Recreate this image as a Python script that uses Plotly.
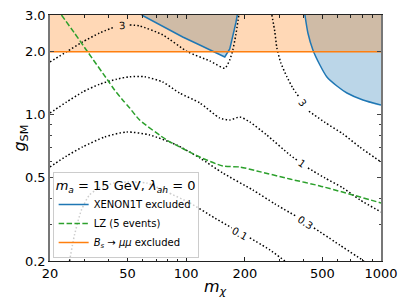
import numpy as np
import plotly.graph_objects as go

# ---------------- data ----------------
# contour g_SM = const lines (dotted), None = gap for inline label
c3_left_m = [20, 24.3, 29.4, 35.9, 42.9, None, 51.3, 57.7, 75.8, 101.8, 132.1, 157.8, 167.4, 173.5, 179.8, 186.3]
c3_left_g = [1.79, 2.00, 2.23, 2.46, 2.63, None, 2.69, 2.66, 2.41, 2.00, 1.81, 1.67, 1.83, 2.04, 2.41, 3.0]

c3_right_m = [275.3, 285.2, 292.0, 306.2, 328.8, 352.9, 378.9, None, 426.5, 515.4, 637.8, 779.8, 1000]
c3_right_g = [3.0, 2.49, 2.09, 1.77, 1.52, 1.34, 1.22, None, 1.04, 0.92, 0.81, 0.70, 0.595]

c1_m = [20, 24.3, 29.4, 35.9, 43.9, 51.3, 61.2, 75.8, 92.6, 117.4, 148.7, 167.4, 188.5, 212.1, 259.4,
        340.6, 370, None, 421.5, 515.4, 637.8, 779.8, 1000]
c1_g = [1.02, 1.15, 1.285, 1.40, 1.48, 1.52, 1.52, 1.435, 1.27, 1.14, 0.965, 0.944, 0.976, 0.924, 0.80,
        0.643, 0.608, None, 0.557, 0.499, 0.447, 0.392, 0.343]

c03_m = [20, 24.3, 29.4, 38.1, 49.5, 64.9, 89.4, 117.4, 154.1, 219.8, 285.2, 365.7, None, 452.5, 615.5, 817.6]
c03_g = [0.563, 0.635, 0.702, 0.783, 0.828, 0.801, 0.717, 0.622, 0.527, 0.437, 0.375, 0.328, None, 0.288, 0.238, 0.2]

c01_m = [25.2, 26.7, 29.0, 31.9, 35.9, 42.9, 49.5, 62.7, 79.4, 104.3, 140.2, 171.4, None, 212.1, 268.8, 321.1]
c01_g = [0.2, 0.266, 0.351, 0.414, 0.447, 0.472, 0.477, 0.472, 0.428, 0.379, 0.321, 0.288, None, 0.258, 0.226, 0.2]

# LZ (5 events)
lz_m = [22.9, 26.7, 31.2, 39.5, 42.9, 47.2, 51.3, 57.7, 79.4, 92.6, 117.4, 154.1, 188.5, 230.5, 340.6, 485.8, 1000]
lz_g = [3.0, 2.46, 2.00, 1.467, 1.314, 1.177, 1.078, 0.944, 0.758, 0.702, 0.628, 0.569, 0.563, 0.539, 0.493, 0.457, 0.379]

# XENON1T exclusion boundaries
x1t_left_m = [59.1, 75.8, 96.0, 117.4, 136.9, 157.8, 167.4, 173.5, 179.8, 183.0]
x1t_left_g = [3.0, 2.658, 2.355, 2.156, 2.018, 1.889, 2.063, 2.355, 2.747, 3.0]
x1t_right_m = [406.8, 421.5, 447.2, 485.8, 527.7, 594.1, 668.7, 808.0, 1000]
x1t_right_g = [3.0, 2.461, 2.041, 1.730, 1.516, 1.373, 1.271, 1.177, 1.114]

# B_s -> mu mu bound
bs_g = 2.0

# contour labels: text, m, g, angle
clabels = [("3", 46.6, 2.66, -4), ("3", 393, 1.139, 52), ("1", 393, 0.588, 36),
           ("0.3", 407, 0.304, 33), ("0.1", 188, 0.272, 29)]

x_ticks = [20, 50, 100, 200, 500, 1000]
x_minor = [30, 40, 60, 70, 80, 90, 300, 400, 600, 700, 800, 900]
y_ticks = [0.2, 0.5, 1.0, 2.0, 3.0]
y_ticklabels = ["0.2", "0.5", "1.0", "2.0", "3.0"]
y_minor = [0.3, 0.4, 0.6, 0.7, 0.8, 0.9]

x_range = (20, 1000)
y_range = (0.2, 3.0)

BLUE = "#1f77b4"
ORANGE = "#ff7f0e"
GREEN = "#2ca02c"
FONT = "DejaVu Sans"

fig = go.Figure()

# XENON1T fills
fig.add_trace(go.Scatter(x=x1t_left_m, y=x1t_left_g, mode="lines", fill="toself",
                         fillcolor="rgba(31,119,180,0.3)", line=dict(width=0),
                         showlegend=False, hoverinfo="skip"))
fig.add_trace(go.Scatter(x=x1t_right_m + [x_range[1]], y=x1t_right_g + [y_range[1]], mode="lines",
                         fill="toself", fillcolor="rgba(31,119,180,0.3)",
                         line=dict(width=0, shape="spline", smoothing=0.6),
                         showlegend=False, hoverinfo="skip"))
# B_s fill
fig.add_trace(go.Scatter(x=[x_range[0], x_range[1], x_range[1], x_range[0]],
                         y=[bs_g, bs_g, y_range[1], y_range[1]], mode="lines", fill="toself",
                         fillcolor="rgba(255,127,14,0.3)", line=dict(width=0),
                         showlegend=False, hoverinfo="skip"))

# contours
dot = dict(color="black", width=1.5, dash="1.5px,2.2px", shape="spline", smoothing=0.6)
for xs, ys in [(c3_left_m, c3_left_g), (c3_right_m, c3_right_g), (c1_m, c1_g),
               (c03_m, c03_g), (c01_m, c01_g)]:
    fig.add_trace(go.Scatter(x=xs, y=ys, mode="lines", line=dot, connectgaps=False,
                             showlegend=False, hoverinfo="skip"))

# lines with legend
fig.add_trace(go.Scatter(x=x1t_left_m, y=x1t_left_g, mode="lines", line=dict(color=BLUE, width=1.5),
                         name="XENON1T excluded", legendgroup="x1t"))
fig.add_trace(go.Scatter(x=x1t_right_m, y=x1t_right_g, mode="lines",
                         line=dict(color=BLUE, width=1.5, shape="spline", smoothing=0.6),
                         name="XENON1T excluded", legendgroup="x1t", showlegend=False))
fig.add_trace(go.Scatter(x=lz_m, y=lz_g, mode="lines",
                         line=dict(color=GREEN, width=1.5, dash="5.5px,2.4px", shape="spline", smoothing=0.6),
                         name="LZ (5 events)"))
fig.add_trace(go.Scatter(x=list(x_range), y=[bs_g, bs_g], mode="lines",
                         line=dict(color=ORANGE, width=1.5),
                         name="<i>B<sub>s</sub></i> → <i>μμ</i> excluded"))

for txt, m, g, ang in clabels:
    fig.add_annotation(x=np.log10(m), y=np.log10(g), text=txt, showarrow=False, textangle=ang,
                       font=dict(family=FONT, size=10, color="black"), xref="x", yref="y")

# axis titles
fig.add_annotation(x=0.5, y=-0.106, xref="paper", yref="paper", text="<i>m</i><sub><i>χ</i></sub>",
                   showarrow=False, xanchor="center", yanchor="middle",
                   font=dict(family=FONT, size=16, color="black"))
fig.add_annotation(x=-0.092, y=0.5, xref="paper", yref="paper", text="<i>g</i><sub>SM</sub>",
                   showarrow=False, xanchor="center", yanchor="middle", textangle=-90,
                   font=dict(family=FONT, size=16, color="black"))

axis_common = dict(type="log", ticks="inside", mirror="ticks", showgrid=False, zeroline=False,
                   showline=True, automargin=False, ticklabeloverflow="allow",
                   tickfont=dict(family=FONT, size=13, color="black"))

fig.update_xaxes(range=[np.log10(x_range[0]), np.log10(x_range[1])], tickvals=x_ticks,
                 ticktext=[str(v) for v in x_ticks], ticklen=4, linecolor="#222", linewidth=1,
                 tickcolor="#222",
                 minor=dict(tickvals=x_minor, ticks="inside", ticklen=2.5, tickcolor="#222"),
                 **axis_common)
fig.update_yaxes(range=[np.log10(y_range[0]), np.log10(y_range[1])], tickvals=y_ticks,
                 ticktext=y_ticklabels, ticklen=4, linecolor="#777", linewidth=1.5, tickcolor="#444",
                 minor=dict(tickvals=y_minor, ticks="inside", ticklen=2.5, tickcolor="#444"),
                 **axis_common)

# page body has an 8px default margin: size the figure so it fits the 407x305 window
fig.update_layout(
    width=399, height=297,
    margin=dict(l=42, r=26, t=7, b=44, autoexpand=False),
    paper_bgcolor="white", plot_bgcolor="white",
    font=dict(family=FONT, color="black"),
    legend=dict(x=0.008, y=0.012, xanchor="left", yanchor="bottom",
                bgcolor="rgba(255,255,255,0.8)", bordercolor="#cccccc", borderwidth=1,
                font=dict(family=FONT, size=10, color="black"),
                title=dict(text="<i>m</i><sub><i>a</i></sub> = 15 GeV, <i>λ</i><sub><i>ah</i></sub> = 0",
                           font=dict(family=FONT, size=13, color="black")),
                itemwidth=30, tracegroupgap=0),
    showlegend=True,
)

fig.write_html("out.html")
